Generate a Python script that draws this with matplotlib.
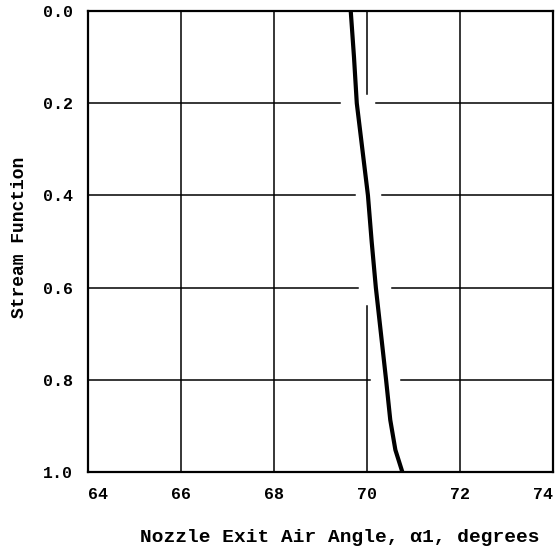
import numpy as np
from matplotlib import pyplot as plt

# stream function vs nozzle exit air angle
stream_fn = [0.0, 0.1, 0.2, 0.3, 0.4, 0.5, 0.6, 0.7, 0.8, 0.887, 0.952, 1.0]
air_angle = [69.65, 69.72, 69.78, 69.90, 70.02, 70.10, 70.19, 70.30, 70.41, 70.50, 70.61, 70.76]

x_ticks = [64, 66, 68, 70, 72, 74]
y_ticks = [0.0, 0.2, 0.4, 0.6, 0.8, 1.0]

# grid lines are broken where the curve crosses them
h_gaps = {0.2: (69.42, 70.19), 0.4: (69.74, 70.32), 0.6: (69.81, 70.54), 0.8: (70.06, 70.73)}
v_segments = {70: [(0.0, 0.18), (0.64, 1.0)]}

font = {'family': 'Liberation Mono', 'weight': 'bold'}

fig = plt.figure(figsize=(5.55, 5.47), dpi=100)
ax = fig.add_axes([0.1586, 0.1371, 0.8378, 0.8428])

for xv in x_ticks[1:-1]:
    segs = v_segments.get(xv, [(0.0, 1.0)])
    for y0, y1 in segs:
        ax.plot([xv, xv], [y0, y1], color='black', lw=1.1, zorder=1)
for yv in y_ticks[1:-1]:
    if yv in h_gaps:
        g0, g1 = h_gaps[yv]
        ax.plot([64, g0], [yv, yv], color='black', lw=1.1, zorder=1)
        ax.plot([g1, 74], [yv, yv], color='black', lw=1.1, zorder=1)
    else:
        ax.plot([64, 74], [yv, yv], color='black', lw=1.1, zorder=1)

ax.plot(air_angle, stream_fn, color='black', lw=3.0, solid_capstyle='butt',
        solid_joinstyle='round', zorder=3)

ax.set_xlim(64, 74)
ax.set_ylim(1.0, 0.0)
ax.set_xticks(x_ticks)
ax.set_yticks(y_ticks)
xlabels = ax.set_xticklabels([str(t) for t in x_ticks], fontdict=font, fontsize=12)
xlabels[0].set_horizontalalignment('left')
xlabels[-1].set_horizontalalignment('right')
ax.set_yticklabels(['%.1f' % t for t in y_ticks], fontdict=font, fontsize=12)
ax.tick_params(length=0, pad=11)
for s in ax.spines.values():
    s.set_linewidth(1.6)

fig.text(340 / 555, 1 - 537 / 547, 'Nozzle Exit Air Angle, \u03b11, degrees',
         fontdict=font, fontsize=14, ha='center', va='center')
fig.text(20 / 555, 1 - 237 / 547, 'Stream Function', fontdict=font, fontsize=13,
         rotation=90, ha='center', va='center')

fig.savefig('out.png', dpi=100)
